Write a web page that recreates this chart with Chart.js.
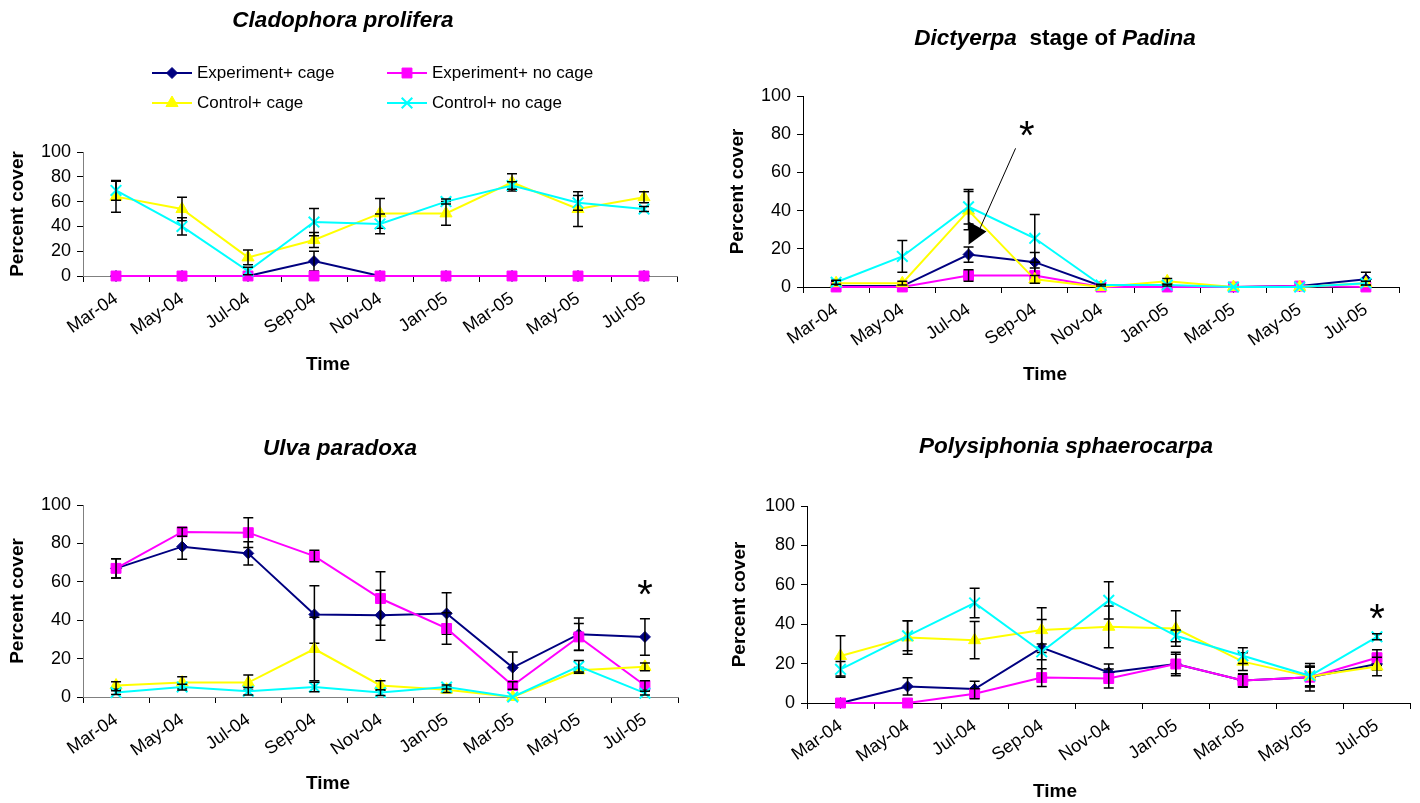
<!DOCTYPE html>
<html>
<head>
<meta charset="utf-8">
<script src="https://cdn.jsdelivr.net/npm/chart.js"></script>
<style>
  html, body { margin: 0; padding: 0; background: #fff; }
  body { width: 1420px; height: 803px; position: relative; overflow: hidden; }
  canvas { position: absolute; }
</style>
</head>
<body>
<canvas id="chartClad" width="710" height="400" style="left:0;top:0"></canvas>
<canvas id="chartDict" width="710" height="400" style="left:710px;top:0"></canvas>
<canvas id="chartUlva" width="710" height="403" style="left:0;top:400px"></canvas>
<canvas id="chartPoly" width="710" height="403" style="left:710px;top:400px"></canvas>
<script>
// ==================== DATOS ====================
const months = ['Mar-04', 'May-04', 'Jul-04', 'Sep-04', 'Nov-04', 'Jan-05', 'Mar-05', 'May-05', 'Jul-05'];
const seriesNames = ['Experiment+ cage', 'Experiment+ no cage', 'Control+ cage', 'Control+ no cage'];
const yTicks = [0, 20, 40, 60, 80, 100];
const yTitle = 'Percent cover';
const xTitle = 'Time';

// Cladophora prolifera
const cladExpCage      = [0, 0, 0, 12, 0, 0, 0, 0, 0];
const cladExpNoCage    = [0, 0, 0, 0, 0, 0, 0, 0, 0];
const cladCtrlCage     = [64, 54, 15, 29, 50.5, 50.5, 75.5, 54, 63.5];
const cladCtrlNoCage   = [69, 40, 4, 43.5, 42, 60, 73, 59, 54];
const cladExpCageErr   = [0, 0, 0, 8, 0, 0, 0, 0, 0];
const cladExpNoCageErr = [0, 0, 0, 0, 0, 0, 0, 0, 0];
const cladCtrlCageErr  = [12.5, 9.5, 6, 6, 12, 9.5, 7, 14, 4.5];
const cladCtrlNoCageErr= [8, 7, 3, 11, 8, 2, 3, 6, 2];

// Dictyerpa stage of Padina
const dictExpCage      = [0.5, 0.5, 17, 13, 0.5, 0.5, 0, 0.5, 4];
const dictExpNoCage    = [0, 0, 6, 6, 0, 0, 0, 0.5, 0];
const dictCtrlCage     = [2, 2, 40, 4, 0, 3, 0, 0, 2];
const dictCtrlNoCage   = [2.5, 16, 42, 25.5, 1, 1, 0, 0, 2];
const dictExpCageErr   = [0.5, 0.5, 4, 5, 0, 0, 0, 0, 3.7];
const dictExpNoCageErr = [0, 0, 3, 4, 0, 0, 0, 0, 0];
const dictCtrlCageErr  = [1, 1, 10, 2, 0, 1.5, 0, 0, 1];
const dictCtrlNoCageErr= [1, 8.3, 9, 12.5, 0.5, 0.5, 0, 0, 1];

// Ulva paradoxa
const ulvaExpCage      = [67, 78.3, 74.8, 43, 42.6, 43.5, 15.3, 32.7, 31.3];
const ulvaExpNoCage    = [67, 86, 85.6, 73.4, 51.3, 35.7, 6, 31.3, 6];
const ulvaCtrlCage     = [6, 7.5, 7.5, 25, 6, 3.8, 0, 13.9, 15.7];
const ulvaCtrlNoCage   = [2.3, 5.2, 3, 5.2, 2.3, 5.2, 0, 16, 2];
const ulvaExpCageErr   = [5, 6.5, 6, 15, 13, 10.8, 8.2, 8.5, 9.5];
const ulvaExpNoCageErr = [5, 2.3, 7.8, 3, 13.9, 8.2, 2, 7, 2.5];
const ulvaCtrlCageErr  = [2, 3, 4, 16.5, 2.5, 1.5, 0, 1.5, 2];
const ulvaCtrlNoCageErr= [1, 1.5, 2, 2.5, 1.5, 1, 0, 3, 1];

// Polysiphonia sphaerocarpa
const polyExpCage      = [0, 8.4, 7.1, 28.1, 15.5, 19.8, 11.4, 13.1, 19.8];
const polyExpNoCage    = [0, 0, 4.7, 12.9, 12.4, 19.8, 11.4, 13.1, 23];
const polyCtrlCage     = [23.9, 33.3, 31.9, 37, 38.7, 37.8, 21, 13.4, 18.5];
const polyCtrlNoCage   = [17.1, 34.1, 50.8, 26, 52.1, 34.1, 24, 13.8, 33.6];
const polyExpCageErr   = [0, 4.4, 4, 14.3, 4.3, 6, 3, 7, 3];
const polyExpNoCageErr = [0, 0, 2.5, 4.5, 4.8, 5, 3.4, 5, 4];
const polyCtrlCageErr  = [10.2, 8.5, 9.5, 11.4, 10.6, 9, 4.5, 5, 4.7];
const polyCtrlNoCageErr= [4, 7.6, 7.5, 4, 9.5, 3, 4, 5, 1.5];

// ==================== ESTILOS ====================
const FAM = "'Liberation Sans', Arial, sans-serif";
Chart.defaults.font.family = FAM;
Chart.defaults.color = '#000';

const colors = ['#000080', '#FF00FF', '#FFFF00', '#00FFFF'];
const pointStyles = ['rectRot', 'rect', 'triangle', 'crossRot'];
const pointRadii = [5.5, 7, 7, 7.5];

function makeDatasets(values, errors) {
    return values.map((v, i) => ({
        label: seriesNames[i],
        data: v,
        errors: errors[i],
        borderColor: colors[i],
        backgroundColor: colors[i],
        pointBackgroundColor: colors[i],
        pointBorderColor: colors[i],
        pointStyle: pointStyles[i],
        pointRadius: pointRadii[i],
        pointBorderWidth: i === 3 ? 2 : 1,
        borderWidth: 2,
        tension: 0,
        fill: false,
        clip: false,
        order: 3 - i
    }));
}

// barras de error, dibujadas con cada serie
const errorBars = {
    id: 'errorBars',
    afterDatasetDraw(chart, args) {
        const ds = chart.data.datasets[args.index];
        const ys = chart.scales.y;
        const ctx = chart.ctx;
        ctx.save();
        ctx.strokeStyle = '#000';
        ctx.lineWidth = 1.5;
        ds.errors.forEach((e, j) => {
            if (!e) return;
            const px = args.meta.data[j].x;
            const top = ys.getPixelForValue(ds.data[j] + e);
            const bot = ys.getPixelForValue(ds.data[j] - e);
            ctx.beginPath();
            ctx.moveTo(px, top); ctx.lineTo(px, bot);
            ctx.moveTo(px - 5, top); ctx.lineTo(px + 5, top);
            ctx.moveTo(px - 5, bot); ctx.lineTo(px + 5, bot);
            ctx.stroke();
        });
        ctx.restore();
    }
};

// título del panel y "Time"
const panelText = {
    id: 'panelText',
    afterDraw(chart, args, opts) {
        const ctx = chart.ctx;
        ctx.save();
        ctx.fillStyle = '#000';
        ctx.textBaseline = 'middle';
        ctx.textAlign = 'left';
        const fontOf = s => (s.italic ? 'italic ' : '') + 'bold 22.5px ' + FAM;
        let total = 0;
        opts.title.forEach(s => { ctx.font = fontOf(s); total += ctx.measureText(s.text).width; });
        let x = opts.titleX - total / 2;
        opts.title.forEach(s => {
            ctx.font = fontOf(s);
            ctx.fillText(s.text, x, opts.titleY);
            x += ctx.measureText(s.text).width;
        });
        ctx.font = 'bold 19px ' + FAM;
        ctx.textAlign = 'center';
        ctx.fillText(xTitle, opts.timeX, opts.timeY);
        ctx.restore();
    }
};

// asteriscos y flecha
const marks = {
    id: 'marks',
    afterDraw(chart, args, opts) {
        const xs = chart.scales.x, ys = chart.scales.y, ctx = chart.ctx;
        ctx.save();
        ctx.fillStyle = '#000';
        ctx.strokeStyle = '#000';
        (opts.stars || []).forEach(p => {
            ctx.font = '40px ' + FAM;
            ctx.textAlign = 'center';
            ctx.textBaseline = 'alphabetic';
            ctx.fillText('*', xs.getPixelForValue(p[0]), ys.getPixelForValue(p[1]) + 23);
        });
        if (opts.arrow) {
            const a = opts.arrow;
            ctx.lineWidth = 1;
            ctx.beginPath();
            ctx.moveTo(xs.getPixelForValue(a.from[0]), ys.getPixelForValue(a.from[1]));
            ctx.lineTo(xs.getPixelForValue(a.to[0]), ys.getPixelForValue(a.to[1]));
            ctx.stroke();
            ctx.beginPath();
            a.head.forEach((p, k) => {
                const hx = xs.getPixelForValue(p[0]), hy = ys.getPixelForValue(p[1]);
                if (k === 0) ctx.moveTo(hx, hy); else ctx.lineTo(hx, hy);
            });
            ctx.closePath();
            ctx.fill();
        }
        ctx.restore();
    }
};

// leyenda con línea y marcador
const lineLegend = {
    id: 'lineLegend',
    afterDraw(chart, args, opts) {
        if (!opts.items) return;
        const ctx = chart.ctx;
        ctx.save();
        chart.data.datasets.forEach((ds, i) => {
            const [x, y] = opts.items[i];
            ctx.strokeStyle = ds.borderColor;
            ctx.lineWidth = 2;
            ctx.beginPath();
            ctx.moveTo(x, y); ctx.lineTo(x + 40, y);
            ctx.stroke();
            ctx.fillStyle = ds.pointBackgroundColor;
            ctx.lineWidth = ds.pointBorderWidth;
            Chart.helpers.drawPoint(ctx, {
                pointStyle: ds.pointStyle, radius: ds.pointRadius,
                borderWidth: ds.pointBorderWidth, rotation: 0
            }, x + 20, y);
            ctx.fillStyle = '#000';
            ctx.font = '17px ' + FAM;
            ctx.textBaseline = 'middle';
            ctx.textAlign = 'left';
            ctx.fillText(ds.label, x + 45, y);
        });
        ctx.restore();
    }
};

function makeChart(id, cfg) {
    const canvas = document.getElementById(id);
    return new Chart(canvas, {
        type: 'line',
        data: {
            labels: months,
            datasets: makeDatasets(cfg.values, cfg.errors)
        },
        options: {
            responsive: false,
            animation: false,
            events: [],
            layout: { padding: { left: 0, top: cfg.top, right: cfg.right, bottom: 0 } },
            plugins: {
                legend: { display: false },
                tooltip: { enabled: false },
                panelText: cfg.text,
                marks: cfg.marks || {},
                lineLegend: cfg.legend || {}
            },
            scales: {
                x: {
                    offset: true,
                    grid: { offset: true, drawOnChartArea: false, tickLength: 6, tickColor: '#000' },
                    border: { color: cfg.axisColor, width: 1 },
                    ticks: { autoSkip: false, minRotation: 35, maxRotation: 35, font: { size: 18 }, color: '#000', padding: 6 },
                    afterFit(s) { s.height = canvas.height - cfg.bottom; }
                },
                y: {
                    min: 0, max: 100,
                    afterBuildTicks(s) { s.ticks = yTicks.map(v => ({ value: v })); },
                    grid: { drawOnChartArea: false, tickLength: 6, tickColor: '#000' },
                    border: { color: cfg.axisColor, width: 1 },
                    ticks: { font: { size: 18 }, color: '#000', padding: 6 },
                    title: { display: true, text: yTitle, font: { size: 19, weight: 'bold' }, color: '#000', padding: { top: cfg.yTitlePad, bottom: 0 } },
                    afterFit(s) { s.width = cfg.left; }
                }
            }
        },
        plugins: [errorBars, panelText, marks, lineLegend]
    });
}

document.addEventListener('DOMContentLoaded', function() {
    makeChart('chartClad', {
        values: [cladExpCage, cladExpNoCage, cladCtrlCage, cladCtrlNoCage],
        errors: [cladExpCageErr, cladExpNoCageErr, cladCtrlCageErr, cladCtrlNoCageErr],
        left: 83, top: 152, right: 33, bottom: 276, yTitlePad: 6.6, axisColor: '#808080',
        text: { title: [{ text: 'Cladophora prolifera', italic: true }], titleX: 343, titleY: 21, timeX: 328, timeY: 365 },
        legend: { items: [[152, 73], [387, 73], [152, 103], [387, 103]] }
    });

    makeChart('chartDict', {
        values: [dictExpCage, dictExpNoCage, dictCtrlCage, dictCtrlNoCage],
        errors: [dictExpCageErr, dictExpNoCageErr, dictCtrlCageErr, dictCtrlNoCageErr],
        left: 93, top: 96, right: 21, bottom: 287, yTitlePad: 16.6, axisColor: '#000',
        text: {
            title: [{ text: 'Dictyerpa ', italic: true }, { text: ' stage of ', italic: false }, { text: 'Padina', italic: true }],
            titleX: 345, titleY: 39, timeX: 335, timeY: 375
        },
        marks: {
            stars: [[2.88, 84.5]],
            arrow: { from: [2.71, 72.6], to: [2.17, 30.5], head: [[2.0, 34.3], [2.0, 22.1], [2.27, 29]] }
        }
    });

    makeChart('chartUlva', {
        values: [ulvaExpCage, ulvaExpNoCage, ulvaCtrlCage, ulvaCtrlNoCage],
        errors: [ulvaExpCageErr, ulvaExpNoCageErr, ulvaCtrlCageErr, ulvaCtrlNoCageErr],
        left: 83, top: 105, right: 32, bottom: 297, yTitlePad: 6.6, axisColor: '#808080',
        text: { title: [{ text: 'Ulva paradoxa', italic: true }], titleX: 340, titleY: 49, timeX: 328, timeY: 384 },
        marks: { stars: [[8, 58.3]] }
    });

    makeChart('chartPoly', {
        values: [polyExpCage, polyExpNoCage, polyCtrlCage, polyCtrlNoCage],
        errors: [polyExpCageErr, polyExpNoCageErr, polyCtrlCageErr, polyCtrlNoCageErr],
        left: 97, top: 106, right: 5, bottom: 303, yTitlePad: 18.6, axisColor: '#000',
        text: { title: [{ text: 'Polysiphonia sphaerocarpa', italic: true }], titleX: 356, titleY: 47, timeX: 345, timeY: 392 },
        marks: { stars: [[8, 47.9]] }
    });
});
</script>
</body>
</html>
